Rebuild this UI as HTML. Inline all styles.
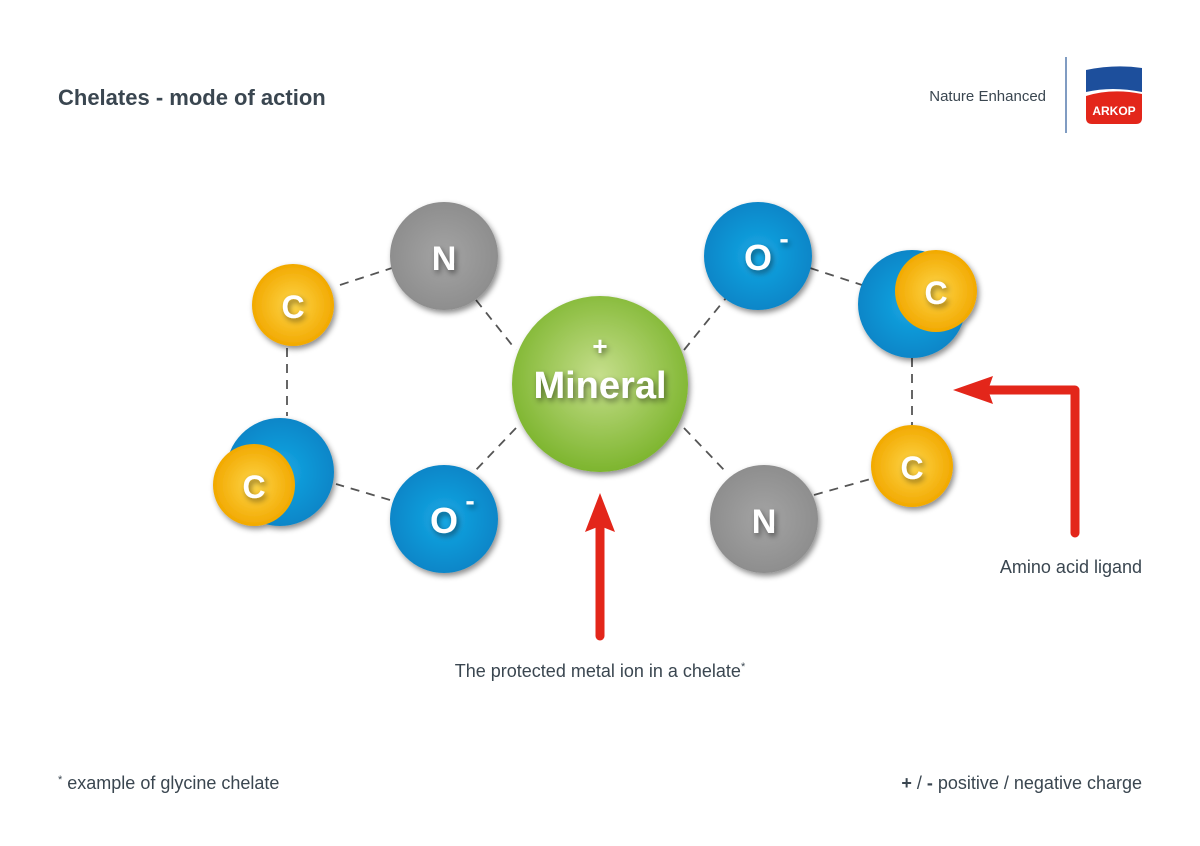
<!DOCTYPE html>
<html><head><meta charset="utf-8"><style>
html,body{margin:0;padding:0;background:#fff}
svg{display:block}
text{font-family:"Liberation Sans",sans-serif}
</style></head><body>
<svg width="1200" height="846" viewBox="0 0 1200 846" xmlns="http://www.w3.org/2000/svg">
<defs>
<radialGradient id="gy" cx="50%" cy="50%" r="50%"><stop offset="0" stop-color="#fdd54a"/><stop offset="1" stop-color="#f2a900"/></radialGradient>
<radialGradient id="gb" cx="50%" cy="50%" r="50%"><stop offset="0" stop-color="#16a8e4"/><stop offset="1" stop-color="#0a86c8"/></radialGradient>
<radialGradient id="gg" cx="50%" cy="50%" r="50%"><stop offset="0" stop-color="#a4a4a4"/><stop offset="1" stop-color="#8e8e8e"/></radialGradient>
<radialGradient id="gm" cx="50%" cy="45%" r="55%"><stop offset="0" stop-color="#c5de8b"/><stop offset="1" stop-color="#7db52e"/></radialGradient>
<filter id="sh" x="-30%" y="-30%" width="160%" height="160%"><feDropShadow dx="2" dy="3" stdDeviation="3" flood-color="#000" flood-opacity="0.45"/></filter>
</defs>
<text x="58" y="105" font-size="22" fill="#3a4650" font-weight="bold">Chelates - mode of action</text>
<text x="1046" y="101" font-size="15" fill="#3a4650" text-anchor="end">Nature Enhanced</text>
<line x1="1066" y1="57" x2="1066" y2="133" stroke="#2a5a9a" stroke-width="1.2"/>
<path d="M1086 70 Q1115 64 1142 68 L1142 92 Q1112 86 1086 92 Z" fill="#1d4f9c"/>
<path d="M1086 96 Q1112 88 1142 94 L1142 118 Q1142 124 1136 124 L1092 124 Q1086 124 1086 118 Z" fill="#e3261a"/>
<text x="1114" y="115" font-size="12" font-weight="bold" fill="#fff" text-anchor="middle">ARKOP</text>
<g stroke="#555" stroke-width="1.8" stroke-dasharray="9,7" fill="none">
<line x1="340" y1="285" x2="392" y2="268"/>
<line x1="476" y1="300" x2="516" y2="350"/>
<line x1="516" y1="428" x2="474" y2="472"/>
<line x1="390" y1="500" x2="336" y2="484"/>
<line x1="287" y1="348" x2="287" y2="416"/>
<line x1="810" y1="268" x2="862" y2="285"/>
<line x1="684" y1="350" x2="726" y2="298"/>
<line x1="684" y1="428" x2="726" y2="472"/>
<line x1="814" y1="495" x2="874" y2="478"/>
<line x1="912" y1="358" x2="912" y2="425"/>
</g>
<g filter="url(#sh)">
<circle cx="600" cy="384" r="88" fill="url(#gm)"/>
<circle cx="444" cy="256" r="54" fill="url(#gg)"/>
<circle cx="293" cy="305" r="41" fill="url(#gy)"/>
<circle cx="280" cy="472" r="54" fill="url(#gb)"/>
<circle cx="254" cy="485" r="41" fill="url(#gy)"/>
<circle cx="444" cy="519" r="54" fill="url(#gb)"/>
<circle cx="758" cy="256" r="54" fill="url(#gb)"/>
<circle cx="912" cy="304" r="54" fill="url(#gb)"/>
<circle cx="936" cy="291" r="41" fill="url(#gy)"/>
<circle cx="912" cy="466" r="41" fill="url(#gy)"/>
<circle cx="764" cy="519" r="54" fill="url(#gg)"/>
</g>
<g font-weight="bold" fill="#fff" text-anchor="middle" filter="url(#sh)">
<text x="600" y="355" font-size="26">+</text>
<text x="600" y="398" font-size="38">Mineral</text>
<text x="444" y="270" font-size="34">N</text>
<text x="293" y="318" font-size="32">C</text>
<text x="254" y="498" font-size="32">C</text>
<text x="444" y="533" font-size="36">O</text>
<text x="470" y="510" font-size="28">-</text>
<text x="758" y="270" font-size="36">O</text>
<text x="784" y="248" font-size="28">-</text>
<text x="936" y="304" font-size="32">C</text>
<text x="912" y="479" font-size="32">C</text>
<text x="764" y="533" font-size="34">N</text>
</g>
<g fill="#e3261a">
<line x1="600" y1="636" x2="600" y2="528" stroke="#e3261a" stroke-width="9" stroke-linecap="round"/>
<path d="M600 493 L615 532 L600 526 L585 532 Z"/>
<path d="M1075 533 L1075 390 L990 390" stroke="#e3261a" stroke-width="9" fill="none" stroke-linecap="round" stroke-linejoin="round"/>
<path d="M953 390 L993 376 L988 390 L993 404 Z"/>
</g>
<g font-size="18" fill="#3a4650">
<text x="600" y="677" text-anchor="middle">The protected metal ion in a chelate<tspan font-size="11" dy="-7">*</tspan></text>
<text x="1142" y="573" text-anchor="end">Amino acid ligand</text>
<text x="58" y="789"><tspan font-size="11" dy="-6">*</tspan><tspan dy="6"> example of glycine chelate</tspan></text>
<text x="1142" y="789" text-anchor="end"><tspan font-weight="bold">+</tspan> / <tspan font-weight="bold">-</tspan> positive / negative charge</text>
</g>
</svg>
</body></html>
